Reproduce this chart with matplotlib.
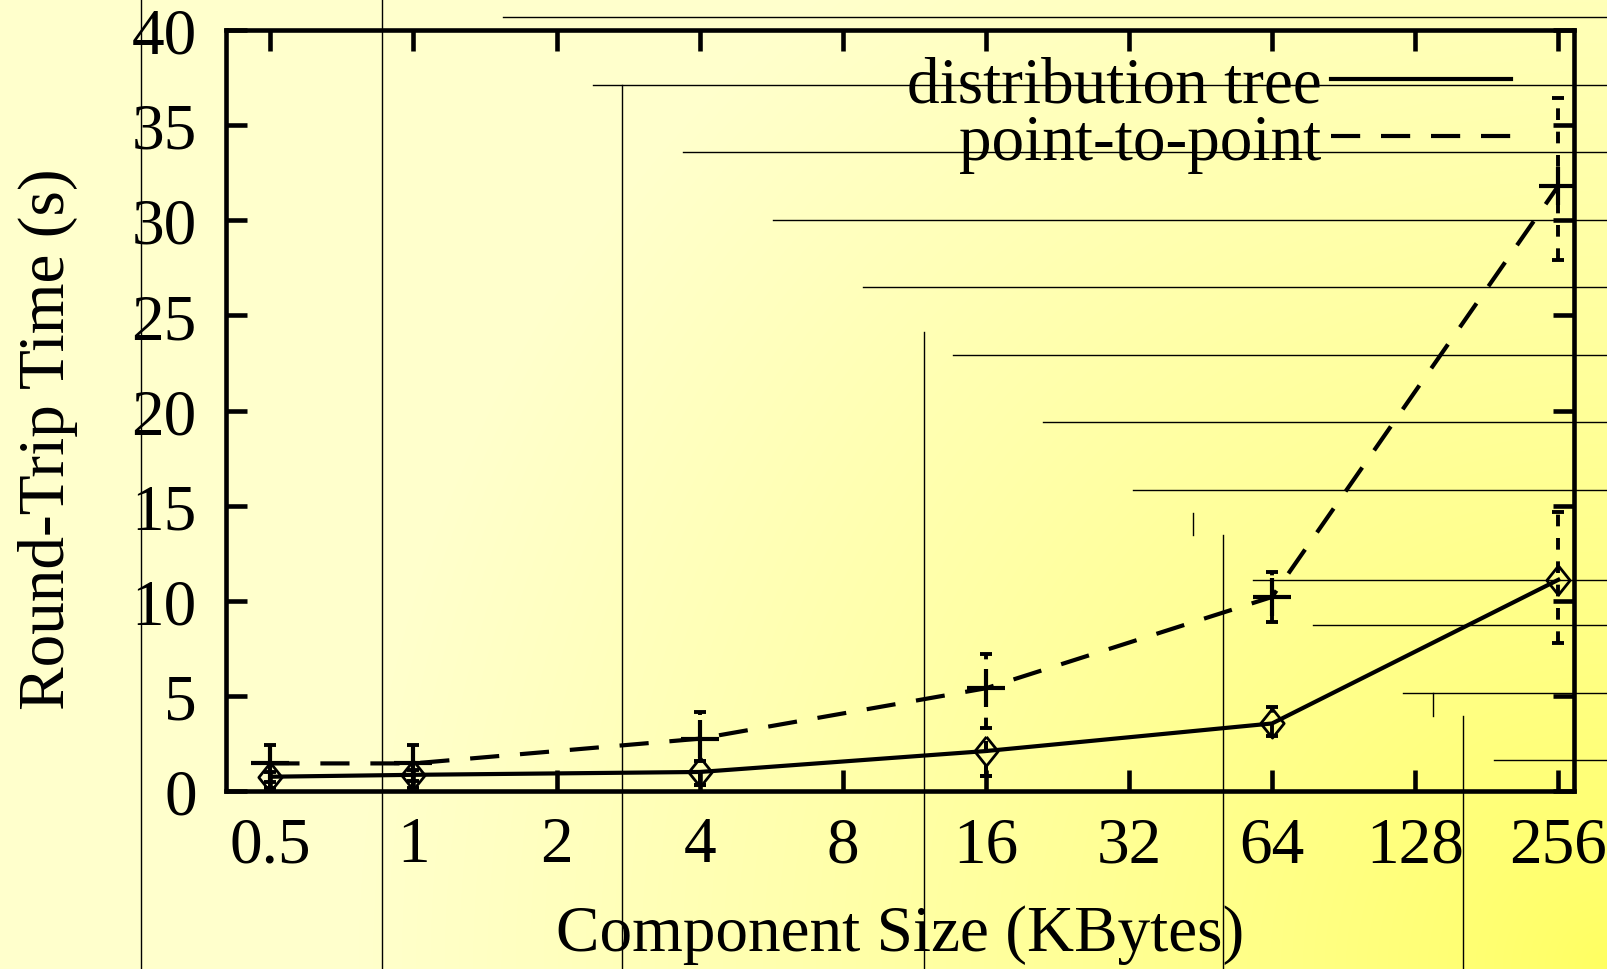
import numpy as np
import matplotlib
matplotlib.use("Agg")
import matplotlib.pyplot as plt
from matplotlib.lines import Line2D

# data (KBytes vs seconds)
sizes = [0.5, 1, 4, 16, 64, 256]
tick_sizes = [0.5, 1, 2, 4, 8, 16, 32, 64, 128, 256]
tick_labels = ['0.5', '1', '2', '4', '8', '16', '32', '64', '128', '256']

tree_mean = [0.75, 0.85, 1.0, 2.1, 3.55, 11.1]
tree_lo = [0.45, 0.5, 0.3, 0.8, 2.9, 7.8]
tree_hi = [1.0, 1.1, 1.6, 3.3, 4.4, 14.65]

p2p_mean = [1.45, 1.45, 2.75, 5.4, 10.2, 31.8]
p2p_lo = [0.15, 0.15, 0.3, 0.8, 8.9, 27.9]
p2p_hi = [2.4, 2.4, 4.15, 7.2, 11.5, 36.4]

W, H = 1608, 970
plt.rcParams['font.family'] = ['Liberation Serif', 'DejaVu Serif']
fig = plt.figure(figsize=(W / 100, H / 100), dpi=100)

# slide background: yellow gradient + thin decoration lines
bg = fig.add_axes([0, 0, 1, 1], zorder=-10)
yy, xx = np.mgrid[0:H, 0:W]
d = np.sqrt((xx - W) ** 2 + (yy - H) ** 2)
t = np.clip(d / 1250.0, 0, 1) ** 0.8
img = np.ones((H, W, 3))
img[..., 2] = (0x60 + (0xCC - 0x60) * t) / 255.0
bg.imshow(img, extent=[0, W, H, 0], aspect='auto')
bg.set_xlim(0, W)
bg.set_ylim(H, 0)
bg.axis('off')
hlines = [(18, 503), (86, 593), (153, 683), (221, 773), (288, 863), (356, 953),
          (423, 1043), (491, 1133), (581, 1253), (626, 1313), (694, 1403), (761, 1494)]
for y, x0 in hlines:
    bg.plot([x0, W], [y, y], color='black', lw=1.0)
vlines = [(141, 0, H), (382, 0, H), (622, 86, H), (924, 333, H), (1193, 514, 536),
          (1223, 536, H), (1433, 694, 717), (1463, 717, H)]
for x, y0, y1 in vlines:
    bg.plot([x, x], [y0, y1], color='black', lw=1.0)

ax = fig.add_axes([226 / W, 1 - 792 / H, (1574 - 226) / W, (792 - 31) / H])
ax.set_facecolor('none')

ax.set_xscale('log', base=2)
ax.set_xlim(0.5 * 2 ** -0.31, 256 * 2 ** 0.11)
ax.set_ylim(0, 40)

# error bars (dashed, gnuplot style)
for mean, lo, hi in [(tree_mean, tree_lo, tree_hi), (p2p_mean, p2p_lo, p2p_hi)]:
    eb = ax.errorbar(sizes, mean,
                     yerr=[np.subtract(mean, lo), np.subtract(hi, mean)],
                     fmt='none', ecolor='black', elinewidth=2.8, capsize=4,
                     capthick=2.8)
    for c in eb[2]:
        c.set_linestyle((0, (3, 3)))

diamond = [(0, 1), (0.8, 0), (0, -1), (-0.8, 0), (0, 1)]
ax.plot(sizes, tree_mean, color='black', lw=3, marker=diamond, ms=21,
        mfc='none', mec='black', mew=2)
ax.plot(sizes, p2p_mean, color='black', lw=3, dashes=(7, 5), marker='+', ms=28,
        mew=3)

ax.set_xticks(tick_sizes)
ax.set_xticklabels(tick_labels)
ax.minorticks_off()
ax.set_yticks(range(0, 41, 5))
ax.tick_params(axis='both', which='major', direction='in', length=15, width=3.3,
               top=True, right=True, labelsize=47, color='black')
ax.tick_params(axis='x', pad=18)
ax.tick_params(axis='y', pad=21)
for s in ax.spines.values():
    s.set_linewidth(3.3)

ax.set_xlabel('Component Size (KBytes)', fontsize=47, va='center')
ax.xaxis.set_label_coords(0.5, -0.188)
ax.set_ylabel('Round-Trip Time (s)', fontsize=47, va='center')
ax.yaxis.set_label_coords(-0.132, 0.463)

handles = [Line2D([], [], color='black', lw=3),
           Line2D([], [], color='black', lw=3, dashes=(7, 5))]
ax.legend(handles, ['distribution tree', 'point-to-point'], loc='upper right',
          bbox_to_anchor=(0.953, 0.966), frameon=False, fontsize=47,
          markerfirst=False, handlelength=2.75, handletextpad=0.15,
          labelspacing=-0.03, borderpad=0, borderaxespad=0)

fig.savefig('out.png', dpi=100)
